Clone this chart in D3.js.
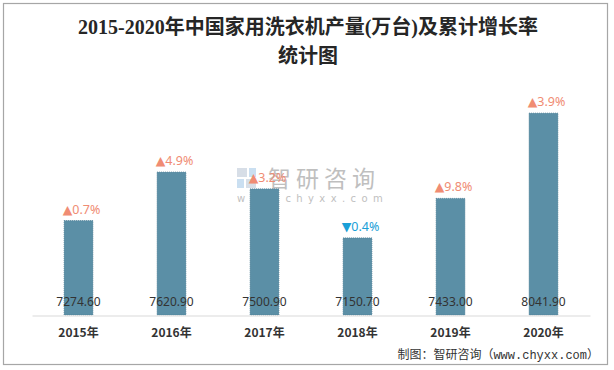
<!DOCTYPE html>
<html>
<head>
<meta charset="utf-8">
<script src="https://cdn.jsdelivr.net/npm/d3@7"></script>
<style>
  body { margin: 0; background: #fff; }
  svg { display: block; }
</style>
</head>
<body>
<div id="chart"></div>
<script>
// 数据
var years = ["2015年", "2016年", "2017年", "2018年", "2019年", "2020年"];
var output = [7274.60, 7620.90, 7500.90, 7150.70, 7433.00, 8041.90];
var growth = [0.7, 4.9, 3.2, -0.4, 9.8, 3.9];   // 累计增长率 %

var W = 614, H = 370;
var margin = {top: 91, right: 24, bottom: 55, left: 32};

var svg = d3.select("#chart").append("svg")
    .attr("width", W)
    .attr("height", H);

// 外框
svg.append("rect")
    .attr("x", 3.5).attr("y", 3.5)
    .attr("width", 604).attr("height", 361)
    .attr("fill", "#fff")
    .attr("stroke", "#a6a6a6")
    .attr("stroke-width", 1.2);

// 标题
var title = svg.append("text")
    .attr("text-anchor", "middle")
    .attr("font-family", "'Liberation Serif', 'Noto Sans CJK SC', serif")
    .attr("font-size", 20)
    .attr("font-weight", "bold")
    .attr("fill", "#262626");
title.append("tspan").attr("x", 308).attr("y", 34).text("2015-2020年中国家用洗衣机产量(万台)及累计增长率");
title.append("tspan").attr("x", 308).attr("y", 63).text("统计图");

var x = d3.scaleBand()
    .domain(years)
    .range([margin.left, W - margin.right])
    .paddingInner(0.69)
    .paddingOuter(0.345);

var y = d3.scaleLinear()
    .domain([6600, 8200])
    .range([H - margin.bottom, margin.top]);

// 水印
var wm = svg.append("g").attr("opacity", 0.55);
wm.append("rect").attr("x", 237).attr("y", 168).attr("width", 10).attr("height", 9).attr("fill", "#b8c4d4");
wm.append("rect").attr("x", 249).attr("y", 168).attr("width", 7).attr("height", 9).attr("fill", "#9fc6e6");
wm.append("rect").attr("x", 237).attr("y", 179).attr("width", 7).attr("height", 9).attr("fill", "#9fc6e6");
wm.append("rect").attr("x", 246).attr("y", 179).attr("width", 10).attr("height", 9).attr("fill", "#b8c4d4");
wm.append("text")
    .attr("x", 268).attr("y", 187)
    .attr("font-family", "'Noto Sans CJK SC', sans-serif")
    .attr("font-size", 23)
    .attr("letter-spacing", 5)
    .attr("fill", "#8c8c8c")
    .text("智研咨询");
wm.append("text")
    .attr("x", 237).attr("y", 202)
    .attr("font-family", "'DejaVu Sans', sans-serif")
    .attr("font-size", 10)
    .attr("letter-spacing", 5.4)
    .attr("fill", "#8c8c8c")
    .text("www.chyxx.com");

// 柱子
svg.selectAll(".bar")
    .data(output)
    .enter().append("rect")
    .attr("class", "bar")
    .attr("x", function(d, i) { return x(years[i]); })
    .attr("y", function(d) { return y(d); })
    .attr("width", x.bandwidth())
    .attr("height", function(d) { return y.range()[0] - y(d); })
    .attr("fill", "#5b8fa6")
    .attr("stroke", "#4f7f96")
    .attr("stroke-width", 0.8)
    .attr("stroke-dasharray", "1,1");

// X 轴
var xAxis = svg.append("g")
    .attr("transform", "translate(0," + (H - margin.bottom + 0.5) + ")")
    .call(d3.axisBottom(x).tickSize(0).tickPadding(13));
xAxis.select(".domain").attr("stroke", "#d9d9d9").attr("stroke-width", 1);
xAxis.selectAll("text")
    .attr("font-family", "'Noto Sans CJK SC', sans-serif")
    .attr("font-size", 12)
    .attr("font-weight", "bold")
    .attr("fill", "#333");

// 数值标签（柱底）
svg.selectAll(".val")
    .data(output)
    .enter().append("text")
    .attr("class", "val")
    .attr("x", function(d, i) { return x(years[i]) + x.bandwidth() / 2; })
    .attr("y", y.range()[0] - 9)
    .attr("text-anchor", "middle")
    .attr("font-family", "'Noto Sans', sans-serif")
    .attr("font-size", 12)
    .attr("fill", "#333")
    .text(function(d) { return d.toFixed(2); });

// 增长率标签
svg.selectAll(".rate")
    .data(growth)
    .enter().append("text")
    .attr("class", "rate")
    .attr("x", function(d, i) { return x(years[i]) + x.bandwidth() / 2 + 3; })
    .attr("y", function(d, i) { return y(output[i]) - 7; })
    .attr("text-anchor", "middle")
    .attr("font-family", "'Noto Sans', 'DejaVu Sans', sans-serif")
    .attr("font-size", 12.5)
    .attr("fill", function(d) { return d < 0 ? "#1aa0d8" : "#f08c73"; })
    .text(function(d) { return (d < 0 ? "▼" : "▲") + Math.abs(d).toFixed(1) + "%"; });

// 来源
svg.append("text")
    .attr("x", 599).attr("y", 359)
    .attr("text-anchor", "end")
    .attr("font-family", "'Liberation Mono', 'Noto Sans CJK SC', monospace")
    .attr("font-size", 12)
    .attr("fill", "#333")
    .text("制图：智研咨询（www.chyxx.com）");
</script>
</body>
</html>
